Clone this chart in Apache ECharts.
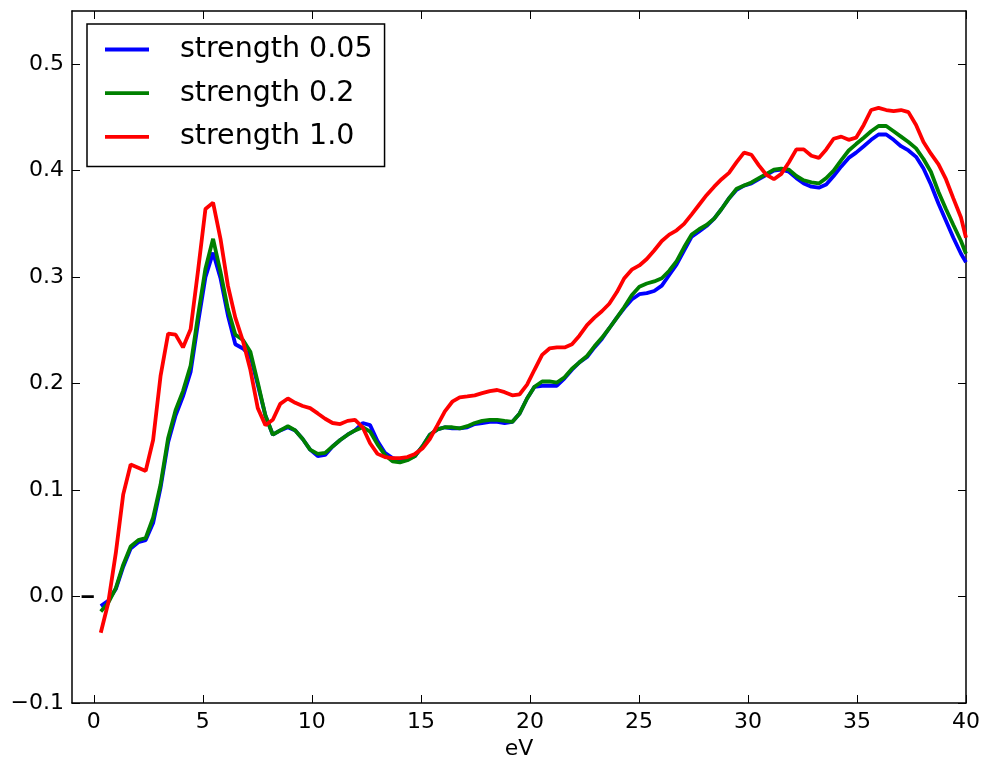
<!DOCTYPE html>
<html>
<head>
<meta charset="utf-8">
<title>Spectrum vs energy</title>
<script src="https://cdn.jsdelivr.net/npm/echarts@6/dist/echarts.min.js"></script>
<style>
  html, body { margin: 0; padding: 0; background: #fff; }
  #chart { width: 983px; height: 765px; }
</style>
</head>
<body>
<div id="chart"></div>
<script>
// Energy grid (eV)
const energy = [
  0.32, 0.66, 1.01, 1.35, 1.69, 2.04, 2.38, 2.72, 3.06, 3.41,
  3.75, 4.09, 4.44, 4.78, 5.12, 5.47, 5.81, 6.15, 6.49, 6.84,
  7.18, 7.52, 7.87, 8.21, 8.55, 8.90, 9.24, 9.58, 9.92, 10.27,
  10.61, 10.95, 11.30, 11.64, 11.98, 12.33, 12.67, 13.01, 13.35, 13.70,
  14.04, 14.38, 14.73, 15.07, 15.41, 15.76, 16.10, 16.44, 16.78, 17.13,
  17.47, 17.81, 18.16, 18.50, 18.84, 19.19, 19.53, 19.87, 20.21, 20.56,
  20.90, 21.24, 21.59, 21.93, 22.27, 22.62, 22.96, 23.30, 23.64, 23.99,
  24.33, 24.67, 25.02, 25.36, 25.70, 26.05, 26.39, 26.73, 27.07, 27.42,
  27.76, 28.10, 28.45, 28.79, 29.13, 29.48, 29.82, 30.16, 30.50, 30.85,
  31.19, 31.53, 31.88, 32.22, 32.56, 32.91, 33.25, 33.59, 33.93, 34.28,
  34.62, 34.96, 35.31, 35.65, 35.99, 36.34, 36.68, 37.02, 37.36, 37.71,
  38.05, 38.39, 38.74, 39.08, 39.42, 39.77, 40.00
];

// strength 0.05
const strength005 = [
  -0.009, -0.004, 0.007, 0.028, 0.045, 0.051, 0.053, 0.069, 0.102, 0.145,
  0.170, 0.188, 0.211, 0.257, 0.300, 0.323, 0.299, 0.264, 0.237, 0.233,
  0.226, 0.199, 0.170, 0.152, 0.156, 0.159, 0.156, 0.148, 0.138, 0.132,
  0.133, 0.141, 0.147, 0.152, 0.156, 0.163, 0.161, 0.146, 0.135, 0.130,
  0.128, 0.129, 0.132, 0.141, 0.152, 0.157, 0.159, 0.158, 0.158, 0.159,
  0.162, 0.163, 0.164, 0.164, 0.163, 0.164, 0.172, 0.186, 0.197, 0.198,
  0.198, 0.198, 0.205, 0.213, 0.220, 0.225, 0.234, 0.242, 0.252, 0.262,
  0.271, 0.279, 0.284, 0.285, 0.287, 0.292, 0.302, 0.312, 0.325, 0.338,
  0.343, 0.348, 0.355, 0.364, 0.374, 0.382, 0.386, 0.388, 0.392, 0.396,
  0.400, 0.401, 0.399, 0.393, 0.388, 0.385, 0.384, 0.387, 0.395, 0.404,
  0.412, 0.417, 0.423, 0.429, 0.434, 0.434, 0.429, 0.423, 0.419, 0.413,
  0.402, 0.387, 0.369, 0.353, 0.337, 0.322, 0.314
];

// strength 0.2
const strength02 = [
  -0.014, -0.006, 0.008, 0.030, 0.047, 0.053, 0.055, 0.074, 0.105, 0.149,
  0.175, 0.193, 0.217, 0.264, 0.308, 0.336, 0.305, 0.270, 0.246, 0.241,
  0.230, 0.201, 0.170, 0.152, 0.156, 0.160, 0.156, 0.148, 0.138, 0.134,
  0.135, 0.141, 0.147, 0.152, 0.156, 0.159, 0.155, 0.143, 0.133, 0.127,
  0.126, 0.128, 0.132, 0.141, 0.152, 0.157, 0.159, 0.159, 0.158, 0.160,
  0.163, 0.165, 0.166, 0.166, 0.165, 0.164, 0.172, 0.186, 0.197, 0.202,
  0.202, 0.201, 0.206, 0.214, 0.220, 0.226, 0.235, 0.243, 0.252, 0.262,
  0.272, 0.283, 0.291, 0.294, 0.296, 0.299, 0.306, 0.315, 0.328, 0.340,
  0.345, 0.349, 0.355, 0.364, 0.374, 0.383, 0.386, 0.389, 0.393, 0.397,
  0.401, 0.402, 0.401, 0.395, 0.391, 0.389, 0.388, 0.393, 0.400, 0.410,
  0.419, 0.425, 0.431, 0.437, 0.442, 0.442, 0.437, 0.432, 0.427, 0.421,
  0.411, 0.399, 0.380, 0.364, 0.349, 0.334, 0.322
];

// strength 1.0
const strength10 = [
  -0.034, -0.006, 0.041, 0.096, 0.124, 0.121, 0.118, 0.147, 0.207, 0.247,
  0.246, 0.234, 0.251, 0.306, 0.364, 0.370, 0.336, 0.292, 0.262, 0.240,
  0.213, 0.177, 0.161, 0.166, 0.181, 0.186, 0.182, 0.179, 0.177, 0.172,
  0.167, 0.163, 0.162, 0.165, 0.166, 0.159, 0.144, 0.134, 0.131, 0.130,
  0.130, 0.131, 0.134, 0.139, 0.148, 0.161, 0.174, 0.183, 0.187, 0.188,
  0.189, 0.191, 0.193, 0.194, 0.192, 0.189, 0.190, 0.199, 0.213, 0.227,
  0.233, 0.234, 0.234, 0.237, 0.245, 0.255, 0.262, 0.268, 0.275, 0.286,
  0.299, 0.307, 0.311, 0.317, 0.325, 0.334, 0.340, 0.344, 0.350, 0.359,
  0.368, 0.377, 0.385, 0.392, 0.398, 0.408, 0.417, 0.415, 0.405, 0.396,
  0.392, 0.397, 0.408, 0.420, 0.420, 0.414, 0.412, 0.420, 0.430, 0.432,
  0.429, 0.431, 0.443, 0.457, 0.459, 0.457, 0.456, 0.457, 0.455, 0.443,
  0.427, 0.416, 0.406, 0.392, 0.374, 0.356, 0.337
];

// short black reference segment on the zero line
const zeroMarkX = [-0.56, 0];
const zeroMarkY = [0, 0];

const seriesNames = ['strength 0.05', 'strength 0.2', 'strength 1.0'];
const seriesColors = ['#0000ff', '#008000', '#ff0000'];
const seriesValues = [strength005, strength02, strength10];

const xTicks = [0, 5, 10, 15, 20, 25, 30, 35, 40];
const yTicks = [-0.1, 0.0, 0.1, 0.2, 0.3, 0.4, 0.5];
const xLabel = 'eV';

const FONT = 'DejaVu Sans';

function pairs(xs, ys) {
  return xs.map((x, i) => [x, ys[i]]);
}

function fmtY(v) {
  const s = v.toFixed(1);
  return s.replace('-', '\u2212');
}

const frameLine = { show: true, onZero: false, lineStyle: { color: '#000', width: 1.5 } };
const innerTick = (vals) => ({ show: true, inside: true, length: 8, customValues: vals, lineStyle: { color: '#000', width: 1 } });

const chart = echarts.init(document.getElementById('chart'), null, { renderer: 'canvas' });

const series = seriesNames.map((name, i) => ({
  name: name,
  type: 'line',
  data: pairs(energy, seriesValues[i]),
  showSymbol: false,
  symbol: 'none',
  lineStyle: { color: seriesColors[i], width: 3.8 },
  itemStyle: { color: seriesColors[i] },
  z: 2 + i,
  clip: true
}));

series.push({
  name: 'zero',
  type: 'line',
  data: pairs(zeroMarkX, zeroMarkY),
  showSymbol: false,
  symbol: 'none',
  lineStyle: { color: '#000', width: 2.7 },
  z: 1,
  silent: true
});

chart.setOption({
  animation: false,
  backgroundColor: '#fff',
  textStyle: { fontFamily: FONT },
  grid: { left: 72, right: 16, top: 11, bottom: 62, containLabel: false },
  legend: {
    data: seriesNames,
    orient: 'vertical',
    left: 87,
    top: 24,
    icon: 'rect',
    itemWidth: 44,
    itemHeight: 3.8,
    itemGap: 14.7,
    padding: [11, 12, 15, 18],
    borderColor: '#000',
    borderWidth: 1.5,
    borderRadius: 0,
    backgroundColor: '#fff',
    textStyle: { fontFamily: FONT, fontSize: 28.5, color: '#000', padding: [0, 0, 0, 26] }
  },
  xAxis: [
    {
      type: 'value', position: 'bottom', min: -1, max: 40,
      axisLine: frameLine,
      axisTick: innerTick(xTicks),
      axisLabel: { customValues: xTicks, fontFamily: FONT, fontSize: 22, color: '#000', margin: 8 },
      splitLine: { show: false },
      name: xLabel, nameLocation: 'middle', nameGap: 33,
      nameTextStyle: { fontFamily: FONT, fontSize: 22, color: '#000' }
    },
    {
      type: 'value', position: 'top', min: -1, max: 40,
      axisLine: frameLine,
      axisTick: innerTick(xTicks),
      axisLabel: { show: false },
      splitLine: { show: false }
    }
  ],
  yAxis: [
    {
      type: 'value', position: 'left', min: -0.1, max: 0.55,
      axisLine: frameLine,
      axisTick: innerTick(yTicks),
      axisLabel: { customValues: yTicks, formatter: fmtY, fontFamily: FONT, fontSize: 22, color: '#000', margin: 8 },
      splitLine: { show: false }
    },
    {
      type: 'value', position: 'right', min: -0.1, max: 0.55,
      axisLine: frameLine,
      axisTick: innerTick(yTicks),
      axisLabel: { show: false },
      splitLine: { show: false }
    }
  ],
  series: series
});
</script>
</body>
</html>
